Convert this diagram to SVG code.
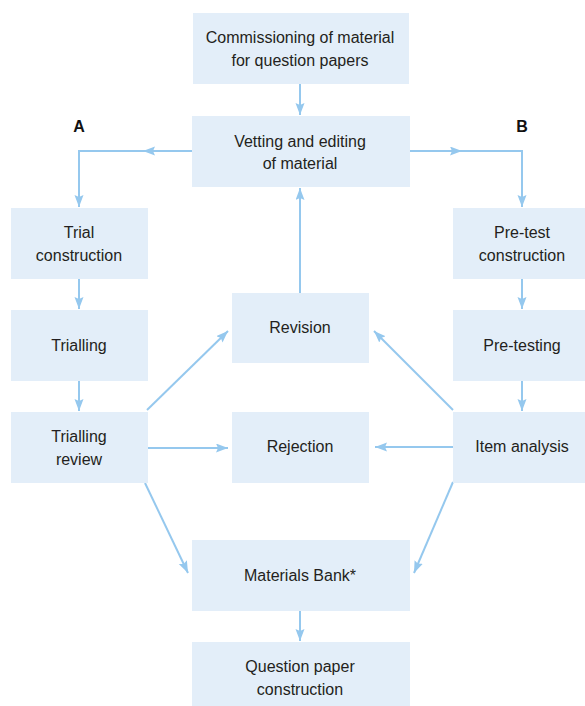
<svg xmlns="http://www.w3.org/2000/svg" width="585" height="706" viewBox="0 0 585 706">
<defs>
<marker id="ah" markerUnits="userSpaceOnUse" markerWidth="13" markerHeight="10" refX="12" refY="4.5" orient="auto">
<path d="M0,0 L12,4.5 L0,9 L2,4.5 Z" fill="#95c8ee"/>
</marker>
<style>
.box{fill:#e3eef9;}
.t{font-family:"Liberation Sans",Arial,sans-serif;font-size:16px;fill:#231f20;text-anchor:middle;}
.lab{font-family:"Liberation Sans",Arial,sans-serif;font-size:16px;font-weight:bold;fill:#111;text-anchor:middle;}
.c{fill:none;stroke:#95c8ee;stroke-width:2;}
.a{marker-end:url(#ah);}
</style>
</defs>
<rect width="585" height="706" fill="#ffffff"/>
<g id="connectors">
<path class="c a" d="M300,84 L300,115"/>
<path class="c a" d="M192,151 L143,151"/>
<path class="c a" d="M143,151 L79,151 L79,207"/>
<path class="c a" d="M410,151 L462,151"/>
<path class="c a" d="M462,151 L522,151 L522,207"/>
<path class="c a" d="M79,279 L79,309"/>
<path class="c a" d="M79,381 L79,411"/>
<path class="c a" d="M522,279 L522,309"/>
<path class="c a" d="M522,381 L522,411"/>
<path class="c a" d="M300,293 L300,188"/>
<path class="c a" d="M147,410 L228,331"/>
<path class="c a" d="M148,448 L228,448"/>
<path class="c a" d="M145,483 L188,573"/>
<path class="c a" d="M453,410 L374,331"/>
<path class="c a" d="M453,447 L375,447"/>
<path class="c a" d="M453,482 L414,573"/>
<path class="c a" d="M300,611 L300,641"/>
</g>
<g id="labelA"><text class="lab" x="79" y="132">A</text></g>
<g id="labelB"><text class="lab" x="522" y="132">B</text></g>
<g id="commissioning">
<rect class="box" x="193" y="13" width="216" height="71"/>
<text class="t" x="300" y="43">Commissioning of material</text>
<text class="t" x="300" y="66">for question papers</text>
</g>
<g id="vetting">
<rect class="box" x="192" y="116" width="218" height="71"/>
<text class="t" x="300" y="147">Vetting and editing</text>
<text class="t" x="300" y="169">of material</text>
</g>
<g id="trial-construction">
<rect class="box" x="11" y="208" width="137" height="71"/>
<text class="t" x="79" y="238">Trial</text>
<text class="t" x="79" y="261">construction</text>
</g>
<g id="trialling">
<rect class="box" x="11" y="310" width="137" height="71"/>
<text class="t" x="79" y="351">Trialling</text>
</g>
<g id="trialling-review">
<rect class="box" x="11" y="412" width="137" height="71"/>
<text class="t" x="79" y="442">Trialling</text>
<text class="t" x="79" y="465">review</text>
</g>
<g id="revision">
<rect class="box" x="232" y="293" width="137" height="70"/>
<text class="t" x="300" y="333">Revision</text>
</g>
<g id="rejection">
<rect class="box" x="232" y="412" width="137" height="71"/>
<text class="t" x="300" y="452">Rejection</text>
</g>
<g id="pretest-construction">
<rect class="box" x="453" y="208" width="137" height="71"/>
<text class="t" x="522" y="238">Pre-test</text>
<text class="t" x="522" y="261">construction</text>
</g>
<g id="pretesting">
<rect class="box" x="453" y="310" width="137" height="71"/>
<text class="t" x="522" y="351">Pre-testing</text>
</g>
<g id="item-analysis">
<rect class="box" x="453" y="412" width="137" height="71"/>
<text class="t" x="522" y="452">Item analysis</text>
</g>
<g id="materials-bank">
<rect class="box" x="192" y="540" width="218" height="71"/>
<text class="t" x="300" y="581">Materials Bank*</text>
</g>
<g id="question-paper">
<rect class="box" x="192" y="642" width="218" height="64"/>
<text class="t" x="300" y="672">Question paper</text>
<text class="t" x="300" y="695">construction</text>
</g>
</svg>
